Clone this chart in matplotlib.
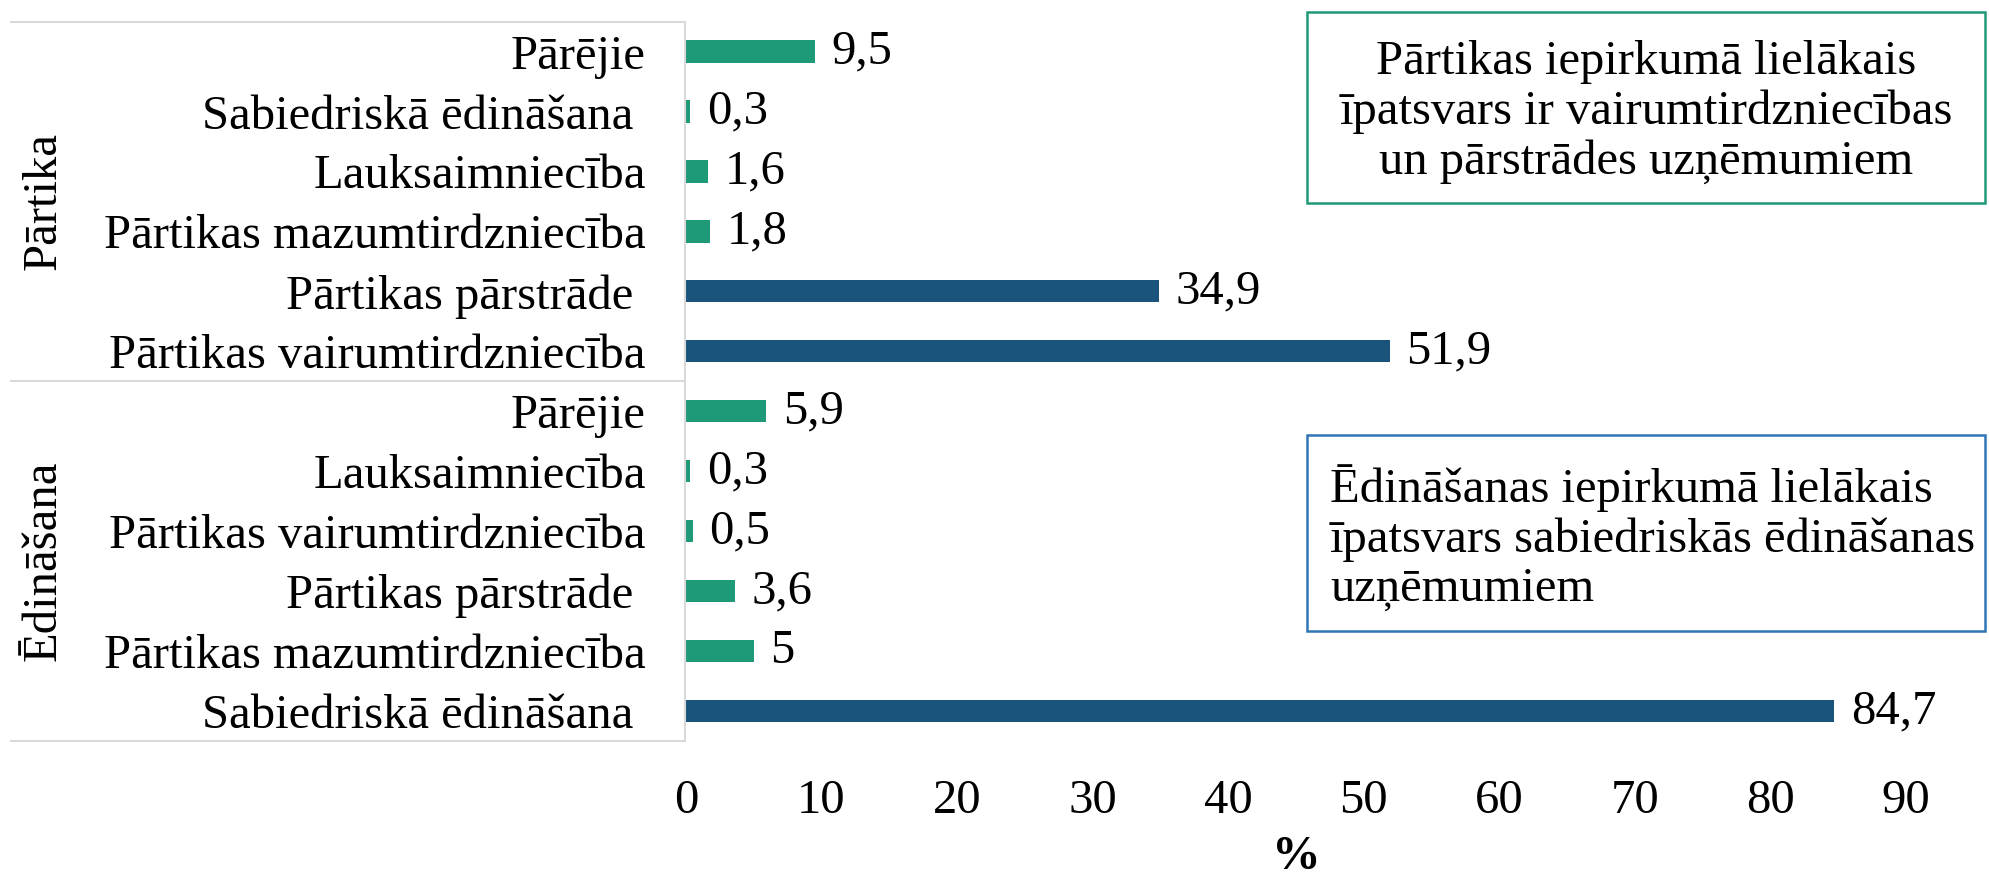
import matplotlib
matplotlib.use("Agg")
import matplotlib.pyplot as plt
from matplotlib.lines import Line2D
from matplotlib.patches import Rectangle

plt.rcParams['font.family'] = ['Liberation Serif', 'DejaVu Serif']

# ---- data ----
groups = ["Pārtika", "Ēdināšana"]
partika_cats = ["Pārējie", "Sabiedriskā ēdināšana ", "Lauksaimniecība",
                "Pārtikas mazumtirdzniecība", "Pārtikas pārstrāde ",
                "Pārtikas vairumtirdzniecība"]
partika_vals = [9.5, 0.3, 1.6, 1.8, 34.9, 51.9]
partika_hl = [False, False, False, False, True, True]
edin_cats = ["Pārējie", "Lauksaimniecība", "Pārtikas vairumtirdzniecība",
             "Pārtikas pārstrāde ", "Pārtikas mazumtirdzniecība",
             "Sabiedriskā ēdināšana "]
edin_vals = [5.9, 0.3, 0.5, 3.6, 5.0, 84.7]
edin_hl = [False, False, False, False, False, True]
xticks = [0, 10, 20, 30, 40, 50, 60, 70, 80, 90]
xlabel = "%"
note1 = "Pārtikas iepirkumā lielākais\nīpatsvars ir vairumtirdzniecības\nun pārstrādes uzņēmumiem"
note2 = "Ēdināšanas iepirkumā lielākais\nīpatsvars sabiedriskās ēdināšanas\nuzņēmumiem"

GREEN = "#1f9a78"
BLUE = "#1a547c"
GRID = "#d9d9d9"
FS = 35

W, H = 1990, 880
fig = plt.figure(figsize=(W / 100, H / 100), dpi=100)

def fx(px):
    return px / W

def fy(py):
    return 1 - py / H

ax_left, ax_right = 686, 1906
ax_top, ax_bot = 21.6, 741
ax = fig.add_axes([fx(ax_left), fy(ax_bot), fx(ax_right) - fx(ax_left), fy(ax_top) - fy(ax_bot)])

cats = partika_cats + edin_cats
vals = partika_vals + edin_vals
hls = partika_hl + edin_hl
ypos = list(range(len(cats)))
colors = [BLUE if h else GREEN for h in hls]
ax.barh(ypos, vals, height=0.37, color=colors)

for y, v in zip(ypos, vals):
    s = (f"{v:.1f}" if v != int(v) else f"{int(v)}").replace(".", ",")
    ax.annotate(s, (v, y), xytext=(12, 0), textcoords="offset points",
                va="center", ha="left", fontsize=FS)

ax.set_ylim(len(cats) - 0.5, -0.5)
ax.set_xlim(0, 90)
ax.set_xticks(xticks)
ax.set_xticklabels([str(t) for t in xticks], fontsize=FS)
ax.set_yticks(ypos)
ax.set_yticklabels(cats, fontsize=FS)
ax.tick_params(axis="y", length=0, pad=29)
ax.tick_params(axis="x", length=0, pad=27)
for sp in ax.spines.values():
    sp.set_visible(False)
ax.set_xlabel(xlabel, fontsize=FS, fontweight="bold", labelpad=9)

# label panel lines
for py in [ax_top, 381, ax_bot]:
    fig.add_artist(Line2D([fx(11), fx(685)], [fy(py), fy(py)], color=GRID, lw=1.5))
fig.add_artist(Line2D([fx(685), fx(685)], [fy(ax_top), fy(ax_bot)], color=GRID, lw=1.5))

# group labels
fig.text(fx(44), fy((ax_top + 381) / 2), groups[0], rotation=90, ha="center", va="center", fontsize=FS)
fig.text(fx(44), fy((381 + ax_bot) / 2), groups[1], rotation=90, ha="center", va="center", fontsize=FS)

# note boxes
fig.add_artist(Rectangle((fx(1307), fy(203)), fx(1985) - fx(1307), fy(12) - fy(203),
                         fill=False, edgecolor=GREEN, lw=1.8, transform=fig.transFigure))
fig.text(fx(1646), fy(112), note1, ha="center", va="center", fontsize=FS, linespacing=1.15)
fig.add_artist(Rectangle((fx(1307), fy(631)), fx(1985) - fx(1307), fy(435) - fy(631),
                         fill=False, edgecolor="#2e75b6", lw=1.8, transform=fig.transFigure))
fig.text(fx(1330), fy(538), note2, ha="left", va="center", fontsize=FS, linespacing=1.15)

fig.savefig("out.png", dpi=100)
